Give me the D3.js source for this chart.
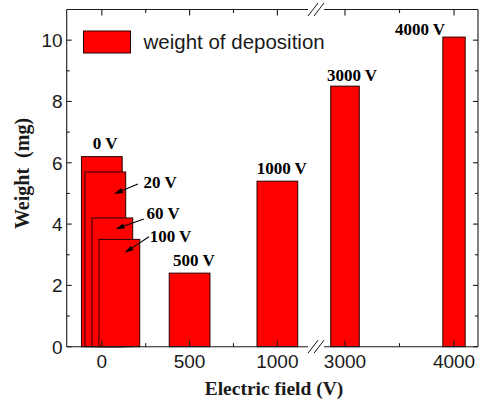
<!DOCTYPE html>
<html>
<head>
<meta charset="utf-8">
<script src="https://cdn.jsdelivr.net/npm/d3@7"></script>
<style>
  html, body { margin: 0; padding: 0; background: #fff; }
  svg { display: block; }
</style>
</head>
<body>
<div id="chart"></div>
<script>
// ---- data ----
const categories = ["0 V", "20 V", "60 V", "100 V", "500 V", "1000 V", "3000 V", "4000 V"];
const voltages = [0, 20, 60, 100, 500, 1000, 3000, 4000];
const weights = [6.2, 5.7, 4.2, 3.5, 2.4, 5.4, 8.5, 10.1];
const barWidthsV = [232, 232, 232, 232, 232, 232, 262, 205];
const xMajorLeft = [0, 500, 1000];
const xMinorLeft = [250, 750];
const xMajorRight = [3000, 4000];
const xMinorRight = [3500];
const yMajor = [0, 2, 4, 6, 8, 10];
const yMinor = [1, 3, 5, 7, 9];
const seriesName = "weight of deposition";
const xTitle = "Electric field (V)";
const yTitle = "Weight  (mg)";

// ---- layout ----
const W = 479, H = 407;
const pLeft = 66.7, pRight = 478, pTop = 9.5, pBottom = 346.7, breakX = 316;

const svg = d3.select("#chart").append("svg").attr("width", W).attr("height", H);

const xL = d3.scaleLinear().domain([-200, 1220]).range([pLeft, breakX]);
const xR = d3.scaleLinear().domain([2734, 4220]).range([breakX, pRight]);
const xPos = v => (v < 2000 ? xL(v) : xR(v));
const xScaleFor = v => (v < 2000 ? xL : xR);
const y = d3.scaleLinear().domain([0, 11]).range([pBottom, pTop]);

const ink = "#1a1a1a";

// ---- bars ----
const bars = categories.map((c, i) => ({ c, v: voltages[i], w: weights[i], bw: barWidthsV[i] }));
svg.append("g").selectAll("rect").data(bars).join("rect")
  .attr("x", d => { const s = xScaleFor(d.v); return s(d.v - d.bw / 2); })
  .attr("width", d => { const s = xScaleFor(d.v); return s(d.v + d.bw / 2) - s(d.v - d.bw / 2); })
  .attr("y", d => y(d.w))
  .attr("height", d => y(0) - y(d.w))
  .attr("fill", "#ff0000")
  .attr("stroke", "#2a0000")
  .attr("stroke-width", 1);

// ---- axes frame ----
const g = svg.append("g").attr("stroke", ink).attr("stroke-width", 1.1).attr("fill", "none");
g.append("line").attr("x1", pLeft).attr("x2", pLeft).attr("y1", pTop).attr("y2", pBottom);
g.append("line").attr("x1", pRight).attr("x2", pRight).attr("y1", pTop).attr("y2", pBottom);
[pTop, pBottom].forEach(yy => {
  g.append("line").attr("x1", pLeft).attr("x2", breakX - 8).attr("y1", yy).attr("y2", yy);
  g.append("line").attr("x1", breakX + 8).attr("x2", pRight).attr("y1", yy).attr("y2", yy);
  [-3, 3].forEach(o => {
    g.append("line")
      .attr("x1", breakX + o - 5).attr("y1", yy + 6.5)
      .attr("x2", breakX + o + 5).attr("y2", yy - 6.5)
      .attr("stroke-width", 1);
  });
});

yMajor.forEach(t => {
  g.append("line").attr("x1", pLeft).attr("x2", pLeft + 5).attr("y1", y(t)).attr("y2", y(t));
  g.append("line").attr("x1", pRight).attr("x2", pRight - 5).attr("y1", y(t)).attr("y2", y(t));
});
yMinor.forEach(t => {
  g.append("line").attr("x1", pLeft).attr("x2", pLeft + 3).attr("y1", y(t)).attr("y2", y(t));
  g.append("line").attr("x1", pRight).attr("x2", pRight - 3).attr("y1", y(t)).attr("y2", y(t));
});
const xMajorAll = xMajorLeft.concat(xMajorRight);
const xMinorAll = xMinorLeft.concat(xMinorRight);
xMajorAll.forEach(t => {
  g.append("line").attr("x1", xPos(t)).attr("x2", xPos(t)).attr("y1", pBottom).attr("y2", pBottom - 6);
  g.append("line").attr("x1", xPos(t)).attr("x2", xPos(t)).attr("y1", pTop).attr("y2", pTop + 6);
});
xMinorAll.forEach(t => {
  g.append("line").attr("x1", xPos(t)).attr("x2", xPos(t)).attr("y1", pBottom).attr("y2", pBottom - 3.5);
  g.append("line").attr("x1", xPos(t)).attr("x2", xPos(t)).attr("y1", pTop).attr("y2", pTop + 3.5);
});

// tick labels
const tickFont = "'Liberation Sans', Arial, sans-serif";
svg.append("g").selectAll("text").data(yMajor).join("text")
  .attr("x", pLeft - 4).attr("y", d => y(d) + 7)
  .attr("text-anchor", "end")
  .attr("font-family", tickFont).attr("font-size", 19).attr("fill", ink)
  .text(d => d);
svg.append("g").selectAll("text").data(xMajorAll).join("text")
  .attr("x", d => xPos(d)).attr("y", pBottom + 21)
  .attr("text-anchor", "middle")
  .attr("font-family", tickFont).attr("font-size", 19).attr("fill", ink)
  .text(d => d);

// axis titles
const serif = "'Liberation Serif', 'Times New Roman', serif";
svg.append("text").attr("x", 274).attr("y", 395)
  .attr("text-anchor", "middle").attr("font-family", serif).attr("font-weight", "bold")
  .attr("font-size", 19.5).attr("fill", ink).text(xTitle);
svg.append("text").attr("transform", "translate(29,173.5) rotate(-90)")
  .attr("text-anchor", "middle").attr("font-family", serif).attr("font-weight", "bold")
  .attr("font-size", 20).attr("fill", ink).style("white-space", "pre").text(yTitle);

// legend
svg.append("rect").attr("x", 83.5).attr("y", 31).attr("width", 47).attr("height", 22)
  .attr("fill", "#ff0000").attr("stroke", "#2a0000").attr("stroke-width", 1);
svg.append("text").attr("x", 143.5).attr("y", 48.5)
  .attr("font-family", tickFont).attr("font-size", 20.5).attr("fill", ink).text(seriesName);

// bar labels: offsets in px from bar top-centre
const labelOffsets = {
  "0 V": { dx: 3.3, dy: -7.7, anchor: "middle" },
  "20 V": { dx: 38.3, dy: 16, anchor: "start", arrow: [32.6, 12, 8.6, 22] },
  "60 V": { dx: 34.2, dy: 0.7, anchor: "start", arrow: [31.5, 1, 3.2, 11] },
  "100 V": { dx: 30.3, dy: 3, anchor: "start", arrow: [29.6, -2.6, 5.3, 13.4] },
  "500 V": { dx: 4.3, dy: -7.3, anchor: "middle" },
  "1000 V": { dx: 4.4, dy: -6.7, anchor: "middle" },
  "3000 V": { dx: 7, dy: -5, anchor: "middle" },
  "4000 V": { dx: -34, dy: -1.7, anchor: "middle" }
};
const lab = svg.append("g");
bars.forEach(d => {
  const o = labelOffsets[d.c];
  const cx = xPos(d.v), ty = y(d.w);
  lab.append("text").attr("x", cx + o.dx).attr("y", ty + o.dy)
    .attr("text-anchor", o.anchor).attr("font-family", serif).attr("font-weight", "bold")
    .attr("font-size", 17).attr("fill", "#000").text(d.c);
  if (o.arrow) {
    const x1 = cx + o.arrow[0], y1 = ty + o.arrow[1], x2 = cx + o.arrow[2], y2 = ty + o.arrow[3];
    const ang = Math.atan2(y2 - y1, x2 - x1);
    const L = 9, hw = 2.6;
    const bx = x2 - L * Math.cos(ang), by = y2 - L * Math.sin(ang);
    lab.append("line").attr("x1", x1).attr("y1", y1).attr("x2", bx).attr("y2", by)
      .attr("stroke", "#000").attr("stroke-width", 1.1);
    const px = -Math.sin(ang) * hw, py = Math.cos(ang) * hw;
    lab.append("path")
      .attr("d", `M${x2},${y2}L${bx + px},${by + py}L${bx - px},${by - py}Z`)
      .attr("fill", "#000");
  }
});
</script>
</body>
</html>
